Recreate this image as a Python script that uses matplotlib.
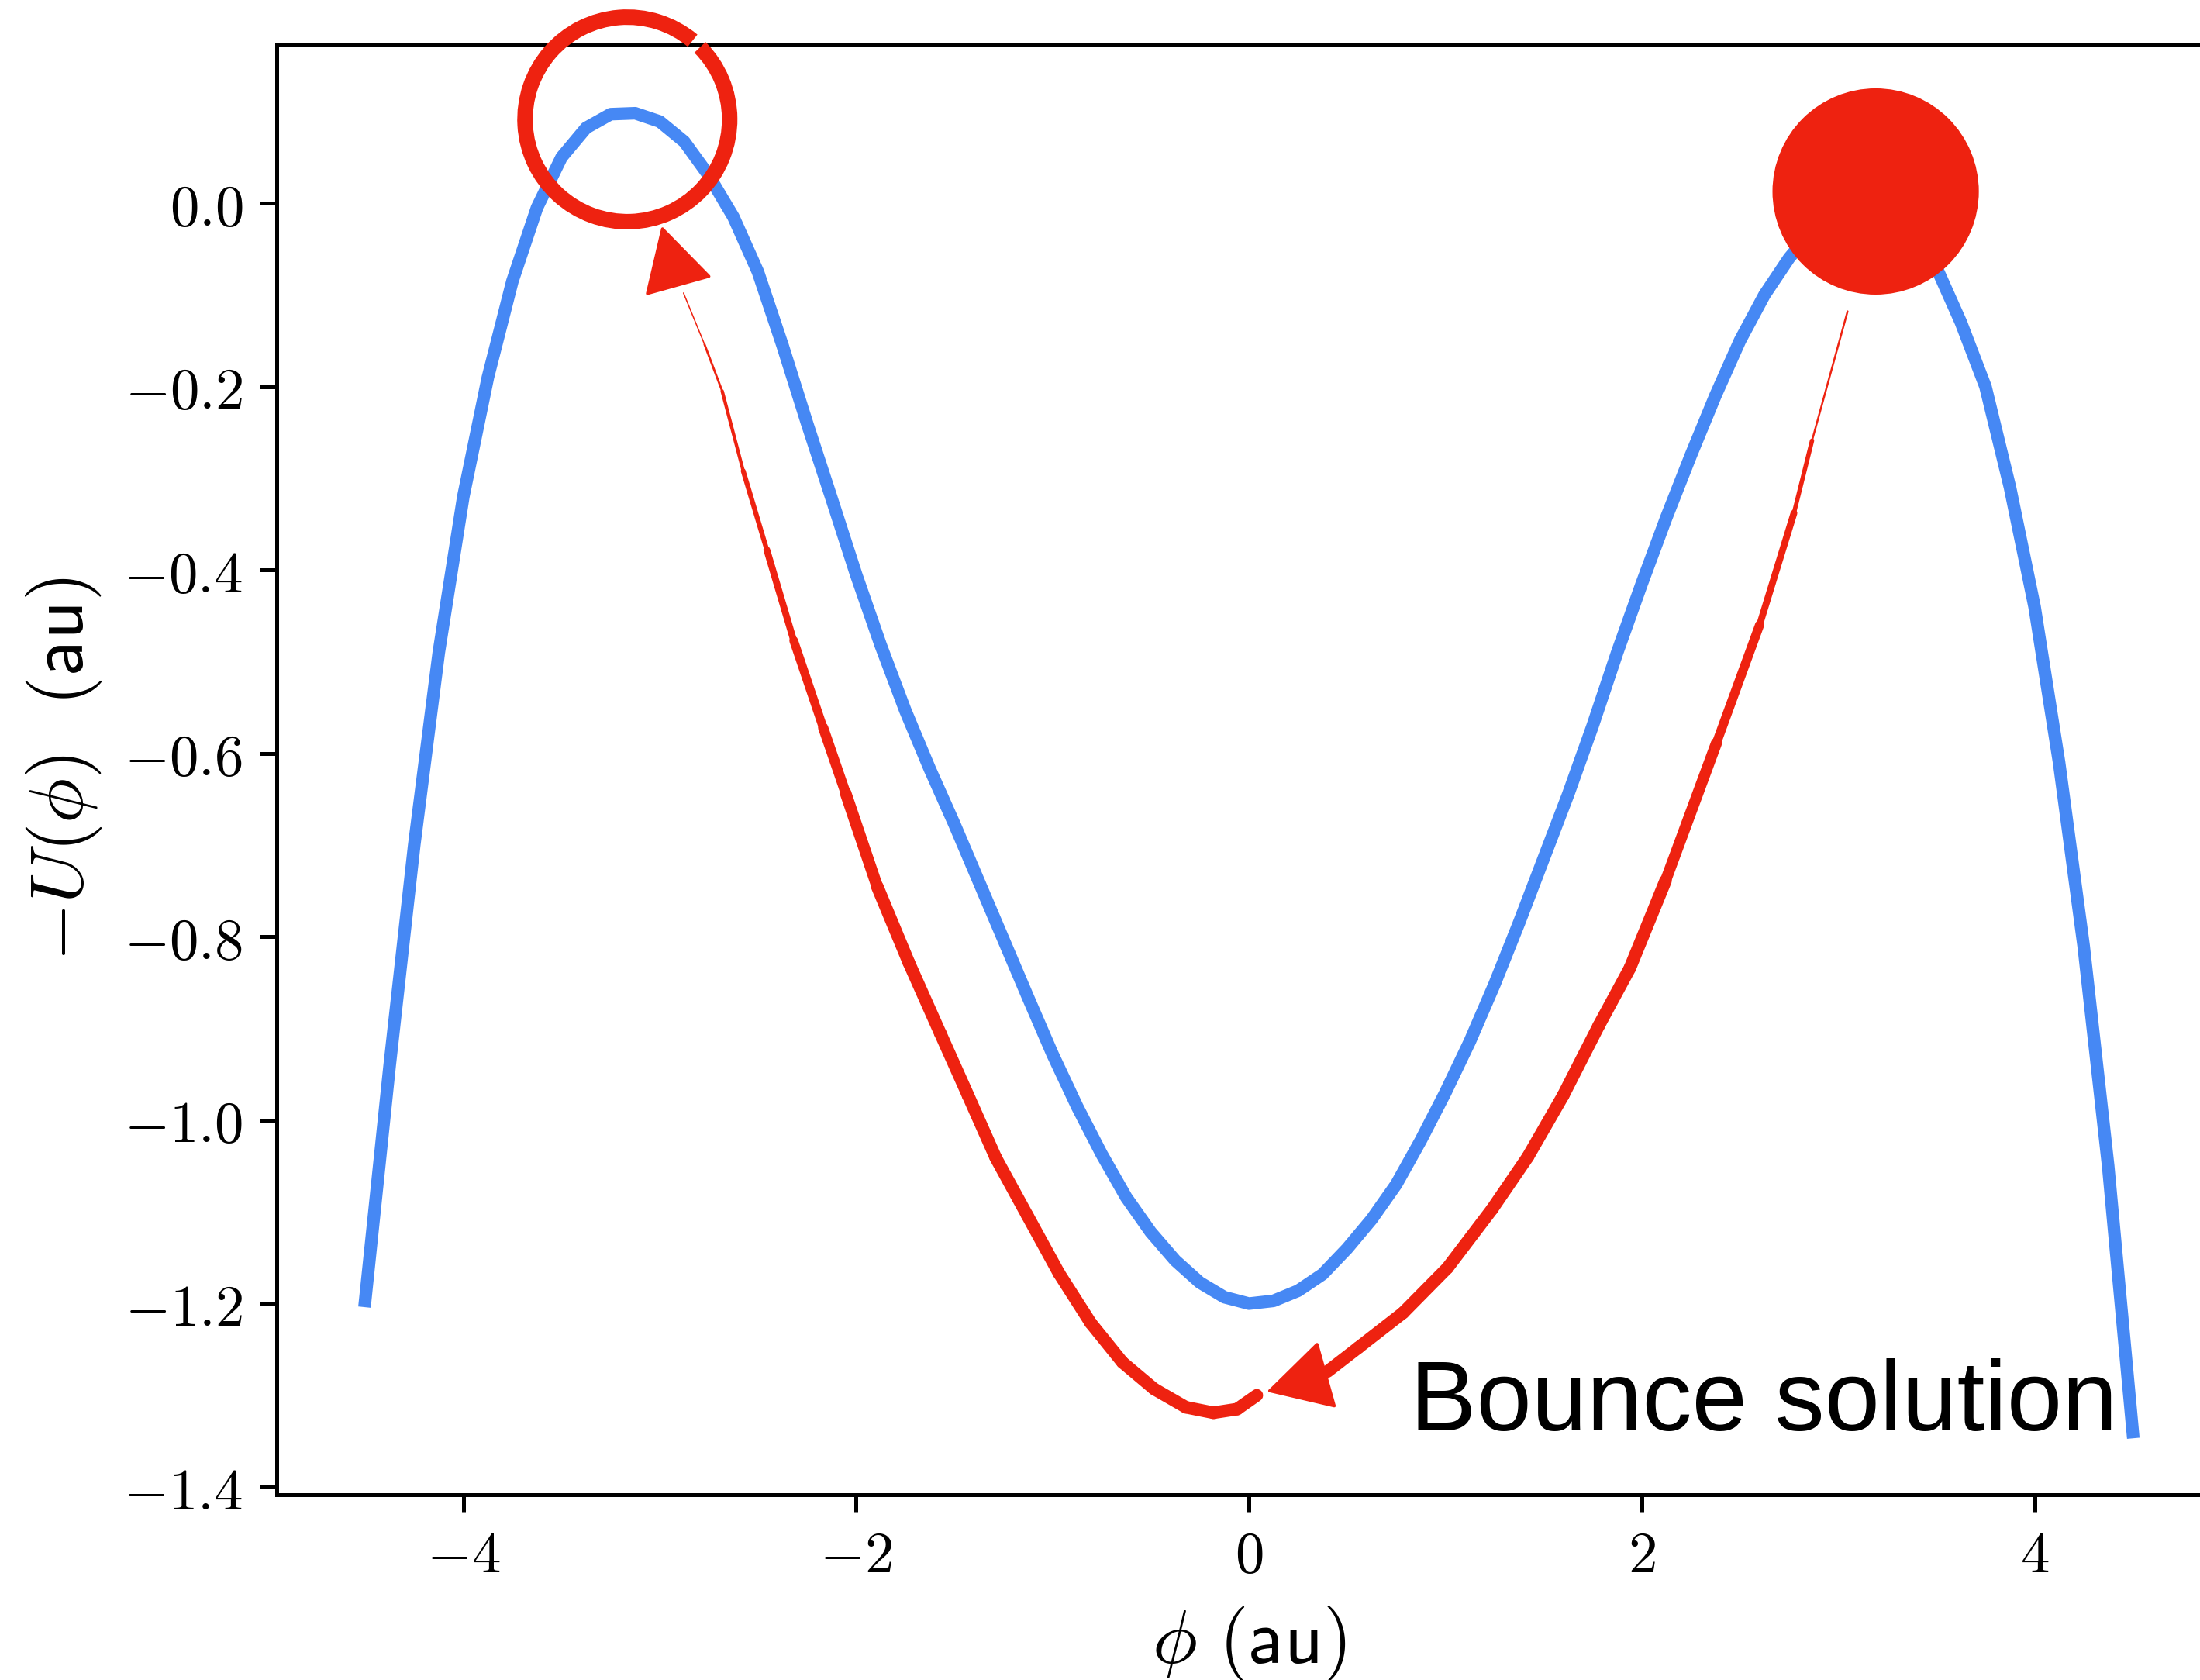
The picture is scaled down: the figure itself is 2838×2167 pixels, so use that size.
import matplotlib
matplotlib.use("Agg")
import matplotlib.pyplot as plt
from matplotlib.collections import LineCollection
from matplotlib.patches import Arc, Ellipse
from matplotlib.ticker import FuncFormatter

plt.rcParams["mathtext.fontset"] = "cm"

# potential curve
phi = [-4.5, -4.375, -4.25, -4.125, -4.0, -3.875, -3.75, -3.625, -3.5, -3.375,
       -3.25, -3.125, -3.0, -2.875, -2.75, -2.625, -2.5, -2.375, -2.25, -2.125,
       -2.0, -1.875, -1.75, -1.625, -1.5, -1.375, -1.25, -1.125, -1.0, -0.875,
       -0.75, -0.625, -0.5, -0.375, -0.25, -0.125, 0.0, 0.125, 0.25, 0.375,
       0.5, 0.625, 0.75, 0.875, 1.0, 1.125, 1.25, 1.375, 1.5, 1.625,
       1.75, 1.875, 2.0, 2.125, 2.25, 2.375, 2.5, 2.625, 2.75, 2.875,
       3.0, 3.125, 3.25, 3.375, 3.5, 3.625, 3.75, 3.875, 4.0, 4.125,
       4.25, 4.375, 4.5]
minus_u = [-1.197, -0.94, -0.70, -0.49, -0.32, -0.19, -0.085, -0.005, 0.05, 0.082,
           0.097, 0.098, 0.089, 0.067, 0.030, -0.015, -0.075, -0.155, -0.24, -0.322,
           -0.405, -0.482, -0.553, -0.617, -0.677, -0.74, -0.803, -0.866, -0.928, -0.985,
           -1.037, -1.084, -1.122, -1.153, -1.177, -1.193, -1.20, -1.197, -1.186, -1.168,
           -1.140, -1.108, -1.070, -1.022, -0.970, -0.914, -0.852, -0.785, -0.715, -0.645,
           -0.570, -0.49, -0.415, -0.343, -0.275, -0.210, -0.150, -0.10, -0.06, -0.028,
           -0.005, 0.006, 0.006, -0.022, -0.07, -0.13, -0.20, -0.31, -0.44, -0.61,
           -0.81, -1.05, -1.34]

# red hand-drawn path: ball -> valley, then valley -> left hilltop
down_x = [3.048, 2.867, 2.775, 2.60, 2.38, 2.121, 1.94, 1.781, 1.60, 1.42,
          1.238, 1.011, 0.785, 0.557, 0.40]
down_y = [-0.118, -0.259, -0.338, -0.46, -0.589, -0.739, -0.834, -0.897, -0.973, -1.04,
          -1.097, -1.161, -1.210, -1.248, -1.274]
up_x = [0.04, -0.06, -0.181, -0.321, -0.483, -0.644, -0.806, -0.967, -1.128, -1.289,
        -1.43, -1.572, -1.732, -1.893, -2.054, -2.168, -2.318, -2.455, -2.575, -2.682,
        -2.772, -2.879]
up_y = [-1.300, -1.315, -1.319, -1.313, -1.293, -1.264, -1.221, -1.167, -1.104, -1.041,
        -0.973, -0.905, -0.828, -0.745, -0.643, -0.572, -0.477, -0.378, -0.292, -0.205,
        -0.154, -0.098]

head_down = [(0.374, -1.279), (0.091, -1.296)]
head_up = [(-2.911, -0.0855), (-2.99, -0.025)]

ball = (3.191, 0.0127)
ring = (-3.165, 0.0913)

xticks = [-4, -2, 0, 2, 4]
yticks = [0.0, -0.2, -0.4, -0.6, -0.8, -1.0, -1.2, -1.4]

blue = "#4688f4"
red = "#ee2210"

fig = plt.figure(figsize=(2838 / 450, 2167 / 450), dpi=450)
ax = fig.add_axes([0.1258, 0.1105, 0.8838, 0.8627])

ax.plot(phi, minus_u, color=blue, lw=2.6, zorder=2)


def stroke(xs, ys, widths):
    segs = [[(xs[i], ys[i]), (xs[i + 1], ys[i + 1])] for i in range(len(xs) - 1)]
    lc = LineCollection(segs, colors=red, linewidths=widths, capstyle="round",
                        joinstyle="round", zorder=3)
    ax.add_collection(lc)


n_down = len(down_x) - 1
w_down = [0.4, 0.9, 1.4, 1.9, 2.3] + [2.6] * (n_down - 5)
stroke(down_x, down_y, w_down)

n_up = len(up_x) - 1
w_up = [2.6] * (n_up - 8) + [2.4, 2.1, 1.8, 1.4, 1.0, 0.7, 0.45, 0.25]
stroke(up_x, up_y, w_up)

for (x0, y0), (x1, y1) in [head_down, head_up]:
    ax.annotate("", xy=(x1, y1), xytext=(x0, y0),
                arrowprops=dict(arrowstyle="-|>,head_length=0.6,head_width=0.33",
                                mutation_scale=20, color=red, lw=0.6,
                                shrinkA=0, shrinkB=0, joinstyle="round"),
                zorder=4)

ax.add_patch(Ellipse(ball, 1.0506, 0.2249, color=red, lw=0, zorder=5))
# small break in the ring at its upper right
ax.add_patch(Arc(ring, 1.042, 0.223, theta1=14.5, theta2=372, color=red, lw=3.2,
                 zorder=5, clip_on=False))

ax.text(0.822, -1.338, "Bounce solution", fontsize=20.5, family="Liberation Sans",
        va="baseline", ha="left", zorder=6)

ax.set_xlim(-4.95, 4.95)
ax.set_ylim(-1.408, 0.1724)
ax.set_xticks(xticks)
ax.set_yticks(yticks)
ax.xaxis.set_major_formatter(FuncFormatter(lambda v, p: "$%d$" % v))
ax.yaxis.set_major_formatter(FuncFormatter(lambda v, p: "$%.1f$" % v))
ax.tick_params(labelsize=12)

ax.set_xlabel(r"$\phi\ (\mathsf{au})$", fontsize=15.5)
ax.set_ylabel(r"$-U(\phi)\ \ (\mathsf{au})$", fontsize=15.5)

fig.savefig("out.png", dpi=450)
